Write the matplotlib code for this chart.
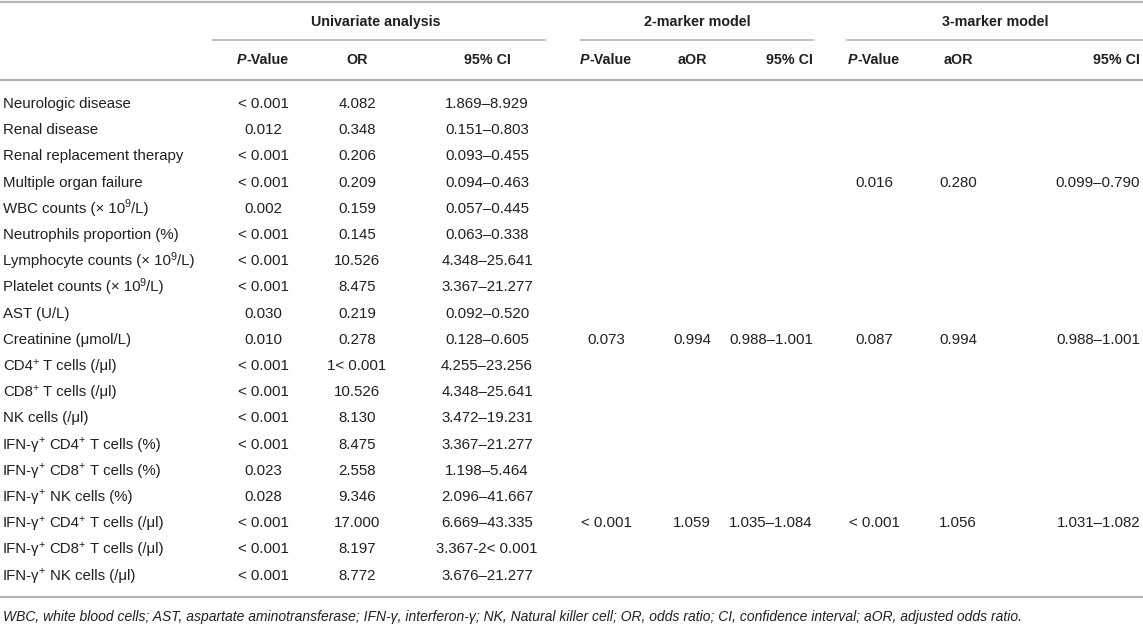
import matplotlib
matplotlib.use("Agg")
import matplotlib.pyplot as plt

plt.rcParams['font.family'] = ['Liberation Sans', 'DejaVu Sans']

# table content ("^x" marks a superscript character)
variables = [
    "Neurologic disease",
    "Renal disease",
    "Renal replacement therapy",
    "Multiple organ failure",
    "WBC counts (× 10^9/L)",
    "Neutrophils proportion (%)",
    "Lymphocyte counts (× 10^9/L)",
    "Platelet counts (× 10^9/L)",
    "AST (U/L)",
    "Creatinine (μmol/L)",
    "CD4^+ T cells (/μl)",
    "CD8^+ T cells (/μl)",
    "NK cells (/μl)",
    "IFN-γ^+ CD4^+ T cells (%)",
    "IFN-γ^+ CD8^+ T cells (%)",
    "IFN-γ^+ NK cells (%)",
    "IFN-γ^+ CD4^+ T cells (/μl)",
    "IFN-γ^+ CD8^+ T cells (/μl)",
    "IFN-γ^+ NK cells (/μl)",
]
uni_p = ["< 0.001", "0.012", "< 0.001", "< 0.001", "0.002", "< 0.001", "< 0.001",
         "< 0.001", "0.030", "0.010", "< 0.001", "< 0.001", "< 0.001", "< 0.001",
         "0.023", "0.028", "< 0.001", "< 0.001", "< 0.001"]
uni_or = ["4.082", "0.348", "0.206", "0.209", "0.159", "0.145", "10.526", "8.475",
          "0.219", "0.278", "1< 0.001", "10.526", "8.130", "8.475", "2.558", "9.346",
          "17.000", "8.197", "8.772"]
uni_ci = ["1.869–8.929", "0.151–0.803", "0.093–0.455", "0.094–0.463", "0.057–0.445",
          "0.063–0.338", "4.348–25.641", "3.367–21.277", "0.092–0.520", "0.128–0.605",
          "4.255–23.256", "4.348–25.641", "3.472–19.231", "3.367–21.277", "1.198–5.464",
          "2.096–41.667", "6.669–43.335", "3.367-2< 0.001", "3.676–21.277"]
m2_p = [""] * 9 + ["0.073"] + [""] * 6 + ["< 0.001"] + [""] * 2
m2_aor = [""] * 9 + ["0.994"] + [""] * 6 + ["1.059"] + [""] * 2
m2_ci = [""] * 9 + ["0.988–1.001"] + [""] * 6 + ["1.035–1.084"] + [""] * 2
m3_p = [""] * 3 + ["0.016"] + [""] * 5 + ["0.087"] + [""] * 6 + ["< 0.001"] + [""] * 2
m3_aor = [""] * 3 + ["0.280"] + [""] * 5 + ["0.994"] + [""] * 6 + ["1.056"] + [""] * 2
m3_ci = [""] * 3 + ["0.099–0.790"] + [""] * 5 + ["0.988–1.001"] + [""] * 6 + ["1.031–1.082"] + [""] * 2

groups = ["Univariate analysis", "2-marker model", "3-marker model"]
sub_heads = ["P-Value", "OR", "95% CI", "P-Value", "aOR", "95% CI", "P-Value", "aOR", "95% CI"]
footnote = ("WBC, white blood cells; AST, aspartate aminotransferase; IFN-γ, interferon-γ; "
            "NK, Natural killer cell; OR, odds ratio; CI, confidence interval; aOR, adjusted odds ratio.")

W, H = 1143, 628
fig = plt.figure(figsize=(W / 100, H / 100), dpi=100)
ax = fig.add_axes([0, 0, 1, 1])
ax.set_xlim(0, W)
ax.set_ylim(H, 0)
ax.axis('off')
renderer = fig.canvas.get_renderer()

FS = 10.8
HFS = 10.3
txt = '#231f20'
rule = '#b5b5b5'


def width_of(s, **kw):
    t = ax.text(0, 0, s, **kw)
    w = t.get_window_extent(renderer).width
    t.remove()
    return w


def draw_runs(x, y, runs, ha='left'):
    # runs: list of (text, kwargs, dy, gap_before)
    pieces = []
    cur = 0.0
    for s, kw, dy, gap in runs:
        cur += gap
        t = ax.text(cur, y + dy, s, va='baseline', ha='left', color=txt, **kw)
        pieces.append((t, cur))
        cur += t.get_window_extent(renderer).width
    if ha == 'center':
        x0 = x - cur / 2
    elif ha == 'right':
        x0 = x - cur
    else:
        x0 = x
    for t, off in pieces:
        t.set_x(x0 + off)


space_w = width_of("a a", fontsize=FS) - width_of("aa", fontsize=FS)


def label_runs(label):
    runs = []
    parts = label.split('^')
    for k, part in enumerate(parts):
        if k == 0:
            runs.append((part, dict(fontsize=FS), 0, 0))
            continue
        runs.append((part[0], dict(fontsize=FS * 0.72), -5.5, -0.8))
        rest = part[1:]
        if rest:
            gap = 0.6
            if rest.startswith(' '):
                gap += space_w
                rest = rest.lstrip(' ')
            runs.append((rest, dict(fontsize=FS), 0, gap))
    return runs


# rules
ax.plot([0, W], [2, 2], color=rule, lw=1.6)
ax.plot([0, W], [80, 80], color=rule, lw=1.6)
ax.plot([0, W], [597, 597], color=rule, lw=1.6)
for x0, x1 in [(213, 545), (581, 813), (847, W)]:
    ax.plot([x0, x1], [40, 40], color=rule, lw=1.2)

# group headers
for g, xc in zip(groups, [376, 697, 995]):
    ax.text(xc, 26, g, ha='center', va='baseline', fontsize=HFS, fontweight='bold', color=txt)

# column positions (x, alignment)
cols = [(263, 'center'), (357, 'center'), (487, 'center'),
        (606, 'center'), (692, 'center'), (813, 'right'),
        (874, 'center'), (958, 'center'), (1140, 'right')]
for (x, ha), s in zip(cols, sub_heads):
    if s.startswith('P-'):
        draw_runs(x, 64, [("P", dict(fontsize=HFS, fontweight='bold', style='italic'), 0, 0),
                          (s[1:], dict(fontsize=HFS, fontweight='bold'), 0, 0.5)], ha)
    else:
        ax.text(x, 64, s, ha=ha, va='baseline', fontsize=HFS, fontweight='bold', color=txt)

series = [uni_p, uni_or, uni_ci, m2_p, m2_aor, m2_ci, m3_p, m3_aor, m3_ci]
for i, name in enumerate(variables):
    y = 108 + 26.2 * i
    draw_runs(3, y, label_runs(name))
    for (x, ha), vals in zip(cols, series):
        if vals[i]:
            ax.text(x, y, vals[i], ha=ha, va='baseline', fontsize=FS, color=txt)

ax.text(3, 621, footnote, ha='left', va='baseline', fontsize=10, style='italic', color=txt)

fig.savefig("out.png", dpi=100)
